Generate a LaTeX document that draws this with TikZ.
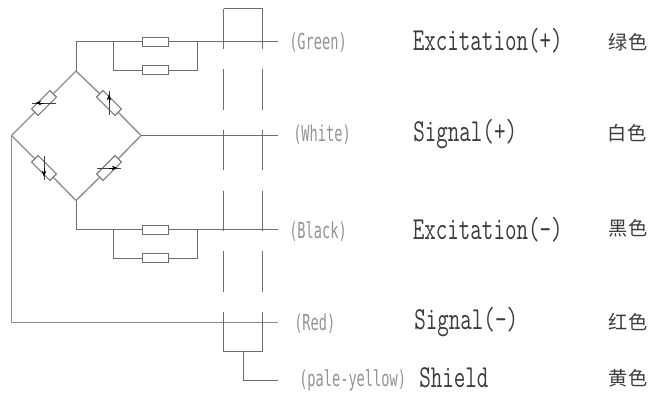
\documentclass[tikz,border=0pt]{standalone}
\usepackage{fontspec}
\usetikzlibrary{arrows.meta}
\newfontfamily\cjkfont{Noto Sans CJK SC}
\newfontfamily\labelfont{DejaVu Sans Mono}
\newfontfamily\mainlabelfont{Latin Modern Mono}
\newcommand{\bigtxt}[1]{\scalebox{.70}[1]{\fontsize{24}{24}\selectfont\mainlabelfont #1}}
\newcommand{\smalltxt}[1]{\scalebox{.62}[1]{\fontsize{16.5}{16.5}\selectfont\labelfont #1}}
\definecolor{wire}{HTML}{6E6E6E}
\definecolor{softwire}{HTML}{8C8C8C}
\definecolor{inktxt}{HTML}{3C3C3C}
\definecolor{graytxt}{HTML}{939393}
\tikzset{
  wireline/.style={draw=wire,line width=.7pt},
  softline/.style={draw=softwire,line width=1pt},
  res/.style={draw=wire,line width=.7pt,fill=white,minimum width=19.5pt,minimum height=6.8pt,inner sep=0pt,outer sep=0pt},
  shieldline/.style={draw=wire,line width=.7pt,dash pattern=on 30.4pt off 15.1pt},
  slider/.style={draw=black!75,line width=.6pt},
  tiparrow/.style={draw=black,line width=.6pt,-{Stealth[length=4.5pt,width=3.4pt]}},
  bigl/.style={anchor=base west,inner sep=0pt,text=inktxt},
  smalll/.style={anchor=base west,inner sep=0pt,text=graytxt},
  cjkl/.style={inner sep=0pt,text=inktxt,font=\fontsize{14.4}{14.4}\selectfont\cjkfont}
}
\begin{document}
\begin{tikzpicture}[x=.75pt,y=-.75pt]
\fill[white] (0,0) rectangle (651,396);
\useasboundingbox (0,0) rectangle (651,396);
% coordinates
\coordinate (top) at (76,71);
\coordinate (left) at (11.5,135.5);
\coordinate (right) at (141,135.5);
\coordinate (bot) at (76,200.5);
\coordinate (tc) at (76,41.5);
\coordinate (bc) at (76,229.5);
\coordinate (t1) at (113,41.5);
\coordinate (t2) at (197,41.5);
\coordinate (t3) at (113,70);
\coordinate (t4) at (197,70);
\coordinate (b1) at (113,229.5);
\coordinate (b2) at (197,229.5);
\coordinate (b3) at (113,258);
\coordinate (b4) at (197,258);
\coordinate (gE) at (278,41.5);
\coordinate (wE) at (278,135.5);
\coordinate (kE) at (278,229.5);
\coordinate (rE) at (278,322.5);
\coordinate (rC) at (11.5,322.5);
\coordinate (yE) at (278,380.5);
\coordinate (yC) at (243,380.5);
\coordinate (yT) at (243,351.8);
\coordinate (s1) at (223.5,8.5);
\coordinate (s2) at (262.5,8.5);
\coordinate (s3) at (223.5,351.8);
\coordinate (s4) at (262.5,351.8);
% series resistors
\node[res] (R1) at (155,41.5) {};
\node[res] (R2) at (155,70) {};
\node[res] (R3) at (155,229.5) {};
\node[res] (R4) at (155,258) {};
% bridge resistors
\node[res,rotate=45] (UL) at (44,103) {};
\node[res,rotate=-45] (UR) at (109,103) {};
\node[res,rotate=-45] (LL) at (44,168) {};
\node[res,rotate=45] (LR) at (109,168) {};
% bridge
\draw[softline] (top) -- (UL.east) (UL.west) -- (left);
\draw[softline] (top) -- (UR.west) (UR.east) -- (right);
\draw[softline] (left) -- (LL.west) (LL.east) -- (bot);
\draw[softline] (bot) -- (LR.west) (LR.east) -- (right);
% sliders
\draw[slider] ([xshift=-9pt]UL.center) -- ([xshift=9pt]UL.center);
\draw[tiparrow] (UL.center) -- ([xshift=-6.5pt]UL.center);
\draw[slider] ([yshift=9pt]UR.center) -- ([yshift=-9pt]UR.center);
\draw[tiparrow] (UR.center) -- ([yshift=6.5pt]UR.center);
\draw[slider] ([yshift=9pt]LL.center) -- ([yshift=-9pt]LL.center);
\draw[tiparrow] (LL.center) -- ([yshift=-6.5pt]LL.center);
\draw[slider] ([xshift=-9pt]LR.center) -- ([xshift=9pt]LR.center);
\draw[tiparrow] (LR.center) -- ([xshift=6.5pt]LR.center);
% wires
\draw[wireline] (top) -- (tc) -- (R1.west) (R1.east) -- (gE);
\draw[wireline] (t1) -- (t3) -- (R2.west) (R2.east) -- (t4) -- (t2);
\draw[wireline] (bot) -- (bc) -- (R3.west) (R3.east) -- (kE);
\draw[wireline] (b1) -- (b3) -- (R4.west) (R4.east) -- (b4) -- (b2);
\draw[wireline] (right) -- (wE);
\draw[softline] (left) -- (rC) -- (rE);
% shield
\draw[shieldline] (s1) -- (s3);
\draw[shieldline] (s2) -- (s4);
\draw[wireline] (s1) -- (s2);
\draw[wireline] (s3) -- (s4);
\draw[wireline] (yT) -- (yC) -- (yE);
% labels
\node[smalll] (lg) at (289,50) {\smalltxt{(Green)}};
\node[smalll] (lw) at (293,142) {\smalltxt{(White)}};
\node[smalll] (lk) at (289,238.7) {\smalltxt{(Black)}};
\node[smalll] (lr) at (294,330) {\smalltxt{(Red)}};
\node[smalll] (ly) at (299,386) {\smalltxt{(pale-yellow)}};
\node[bigl] (n1) at (412.5,50.7) {\bigtxt{Excitation(+)}};
\node[bigl] (n2) at (413,141.7) {\bigtxt{Signal(+)}};
\node[bigl] (n3) at (412.5,239.3) {\bigtxt{Excitation(-)}};
\node[bigl] (n4) at (414,329.3) {\bigtxt{Signal(-)}};
\node[bigl] (n5) at (419,387.7) {\bigtxt{Shield}};
\node[cjkl] (c1) at (628,42) {绿色};
\node[cjkl] (c2) at (627,133) {白色};
\node[cjkl] (c3) at (628,228) {黑色};
\node[cjkl] (c4) at (628,322) {红色};
\node[cjkl] (c5) at (628,378) {黄色};
\end{tikzpicture}
\end{document}
